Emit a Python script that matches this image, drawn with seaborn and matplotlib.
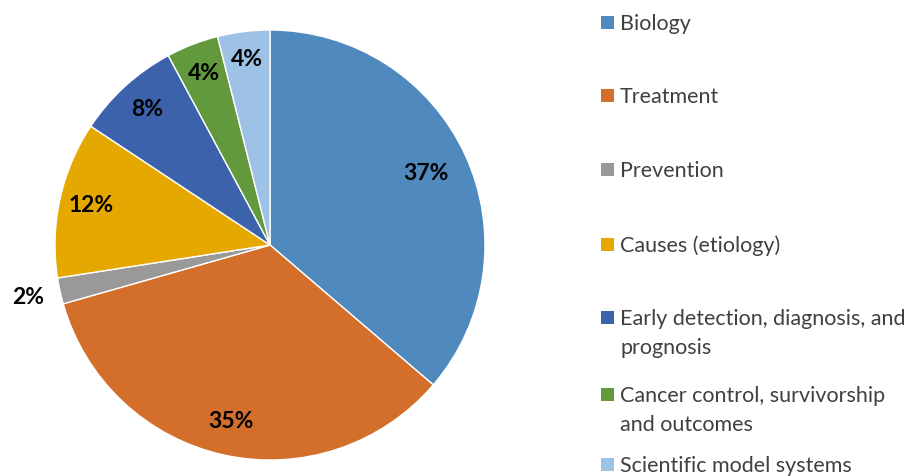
import matplotlib
matplotlib.use("Agg")
import matplotlib.pyplot as plt
import seaborn as sns
import numpy as np
from matplotlib.patches import Rectangle

sns.set_theme(style="white")
plt.rcParams["font.family"] = ["Lato", "DejaVu Sans"]

categories = [
    "Biology",
    "Treatment",
    "Prevention",
    "Causes (etiology)",
    "Early detection, diagnosis, and\nprognosis",
    "Cancer control, survivorship\nand outcomes",
    "Scientific model systems",
]
shares = [37, 35, 2, 12, 8, 4, 4]
colors = ["#4F89BD", "#D36E2B", "#999999", "#E4A800", "#3C62AC", "#62993C", "#9DC2E5"]

W, H = 919, 476
fig = plt.figure(figsize=(W / 100, H / 100), dpi=100)
ax = fig.add_axes([55 / W, 16 / H, 430 / W, 430 / H])

wedges, _ = ax.pie(
    shares,
    colors=colors,
    startangle=90,
    counterclock=False,
    radius=1.0,
    wedgeprops=dict(edgecolor="white", linewidth=1.0),
)
ax.set_xlim(-1, 1)
ax.set_ylim(-1, 1)
ax.set_aspect("equal")
ax.axis("off")

# label radius per slice (the thin prevention slice is labelled outside)
label_r = [0.80, 0.84, 1.15, 0.85, 0.85, 0.855, 0.87]
for w, val, r in zip(wedges, shares, label_r):
    mid = np.deg2rad((w.theta1 + w.theta2) / 2)
    ax.text(r * np.cos(mid), r * np.sin(mid), f"{val}%", ha="center", va="center",
            fontsize=16.5, fontweight="bold", color="black")

# legend column on the right: baseline of the first line of each entry
legend_base = [30, 103, 177, 252, 325, 402, 472]
line_gap = 29
for label, col, yb in zip(categories, colors, legend_base):
    fig.patches.append(Rectangle((601 / W, 1 - (yb - 1) / H), 13 / W, 13 / H,
                                 transform=fig.transFigure, facecolor=col,
                                 edgecolor="none"))
    for i, line in enumerate(label.split("\n")):
        fig.text(620 / W, 1 - (yb + i * line_gap) / H, line, ha="left",
                 va="baseline", fontsize=15.5, color="#404040")

fig.savefig("out.png", dpi=100)
